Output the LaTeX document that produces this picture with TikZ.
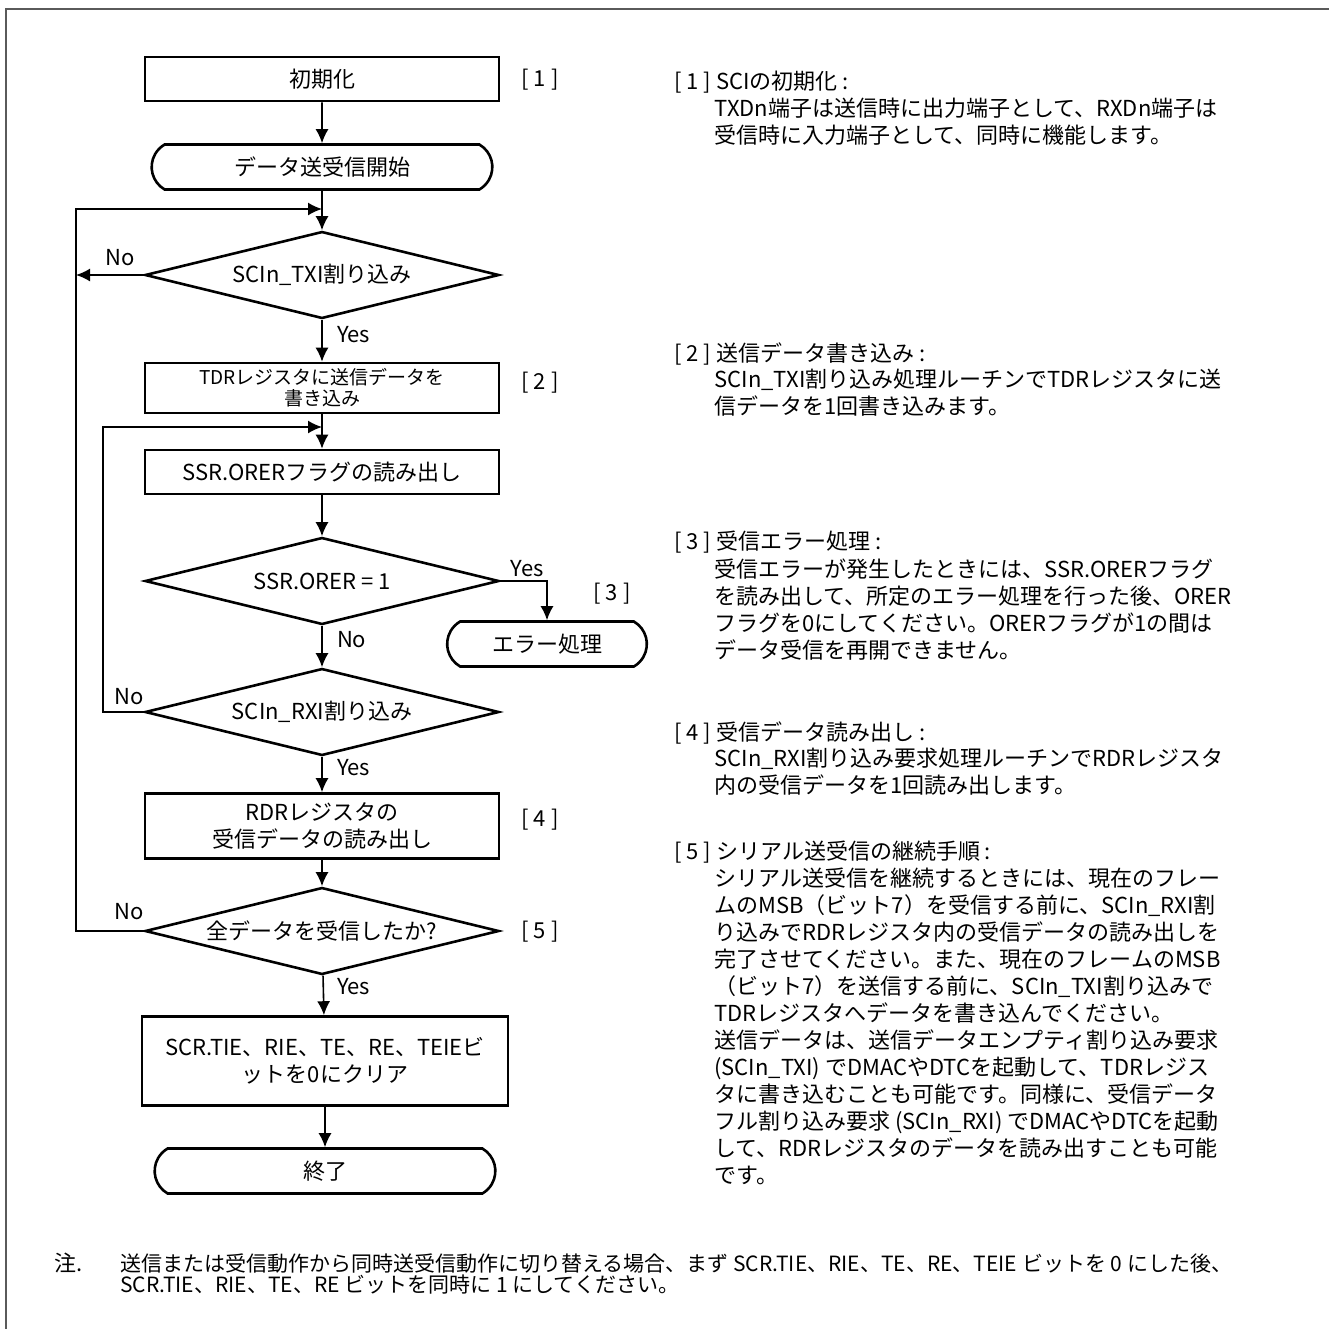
\documentclass[tikz,border=0pt]{standalone}
\usepackage{fontspec}
\setmainfont{Noto Sans CJK JP}
\usepackage{xcolor}
\usepackage{tikz}
\usetikzlibrary{shapes.geometric,shapes.misc,arrows.meta}
\definecolor{framegray}{RGB}{90,90,90}

\begin{document}
\begin{tikzpicture}[x=0.5pt,y=-0.5pt, every node/.style={font=\fontsize{11}{13.5}\selectfont}]
  \tikzstyle{procbox}=[rectangle, draw, line width=1.3pt, minimum width=177pt, minimum height=22pt, align=center, inner sep=2pt]
  \tikzstyle{termbox}=[rounded rectangle, rounded rectangle arc length=120, draw, line width=1.3pt, minimum width=177pt, minimum height=22.5pt]
  \tikzstyle{decbox}=[diamond, shape aspect=4.07, draw, line width=1.3pt, minimum width=177pt, minimum height=43.5pt, inner sep=0pt]
  \tikzstyle{flow}=[line width=0.8pt, -{Latex[length=7pt,width=6.5pt]}]
  \tikzstyle{tag}=[inner sep=0pt]
  \tikzstyle{desc}=[anchor=north west, align=left, inner sep=0pt]
  \useasboundingbox (0,0) rectangle (1329,1329);
  \draw[framegray, line width=1pt] (6,1329) -- (6,9) -- (1329,9);
  \node[procbox] (init) at (322,79) {初期化};
  \node[termbox] (start) at (322,167) {データ送受信開始};
  \node[decbox] (d1) at (322,275) {SCIn\_TXI割り込み};
  \node[procbox, font=\fontsize{9.5}{10.5}\selectfont, minimum height=25pt] (tdr) at (322,388) {TDRレジスタに送信データを\\書き込み};
  \node[procbox] (ssr) at (322,472) {SSR.ORERフラグの読み出し};
  \node[decbox] (d2) at (322,581) {SSR.ORER = 1};
  \node[termbox, minimum width=106.5pt] (err) at (547,644) {エラー処理};
  \node[decbox] (d3) at (322,712) {SCIn\_RXI割り込み};
  \node[procbox, minimum height=32.5pt] (rdr) at (322,826) {RDRレジスタの\\受信データの読み出し};
  \node[decbox] (d4) at (322,931) {全データを受信したか?};
  \node[procbox, minimum width=183pt, minimum height=44.5pt] (scr) at (325,1061) {SCR.TIE、RIE、TE、RE、TEIEビ\\ットを0にクリア};
  \node[termbox] (fin) at (325,1171) {終了};
  \coordinate (lx) at (76,209);
  \coordinate (m1) at (322,209);
  \coordinate (rx) at (103,427);
  \coordinate (m2) at (322,427);
  \draw[flow] (init) -- (start);
  \draw[flow] (start) -- (d1);
  \draw[flow] (d4.west) -| (lx) -- (m1);
  \draw[flow] (d1.west) -- (d1.west -| lx);
  \draw[flow] (d1) -- (tdr);
  \draw[flow] (tdr) -- (ssr);
  \draw[flow] (d3.west) -| (rx) -- (m2);
  \draw[flow] (ssr) -- (d2);
  \draw[flow] (d2.east) -| (err.north);
  \draw[flow] (d2) -- (d3);
  \draw[flow] (d3) -- (rdr);
  \draw[flow] (rdr) -- (d4);
  \draw[flow] (d4) -- (scr);
  \draw[flow] (scr) -- (fin);
  \node (no1) at (120,258) {No};
  \node[anchor=west] (yes1) at (330,335) {Yes};
  \node (yes2) at (527,569) {Yes};
  \node[anchor=west] (no2) at (330,640) {No};
  \node (no3) at (129,697) {No};
  \node[anchor=west] (yes3) at (330,768) {Yes};
  \node (no4) at (129,912) {No};
  \node[anchor=west] (yes4) at (330,987) {Yes};
  \node[tag] (t1) at (540,80) {[ 1 ]};
  \node[tag] (t2) at (540,383) {[ 2 ]};
  \node[tag] (t3) at (612,594) {[ 3 ]};
  \node[tag] (t4) at (540,820) {[ 4 ]};
  \node[tag] (t5) at (540,932) {[ 5 ]};
  \node[desc] (h1) at (674,71) {[ 1 ] SCIの初期化 :};
  \node[desc] (b1) at (714,98) {TXDn端子は送信時に出力端子として、RXDn端子は\\受信時に入力端子として、同時に機能します。};
  \node[desc] (h2) at (674,342) {[ 2 ] 送信データ書き込み :};
  \node[desc] (b2) at (714,369) {SCIn\_TXI割り込み処理ルーチンでTDRレジスタに送\\信データを1回書き込みます。};
  \node[desc] (h3) at (674,531) {[ 3 ] 受信エラー処理 :};
  \node[desc] (b3) at (714,558) {受信エラーが発生したときには、SSR.ORERフラグ\\を読み出して、所定のエラー処理を行った後、ORER\\フラグを0にしてください。ORERフラグが1の間は\\データ受信を再開できません。};
  \node[desc] (h4) at (674,721) {[ 4 ] 受信データ読み出し :};
  \node[desc] (b4) at (714,748) {SCIn\_RXI割り込み要求処理ルーチンでRDRレジスタ\\内の受信データを1回読み出します。};
  \node[desc] (h5) at (674,841) {[ 5 ] シリアル送受信の継続手順 :};
  \node[desc] (b5) at (714,868) {シリアル送受信を継続するときには、現在のフレー\\ムのMSB（ビット7）を受信する前に、SCIn\_RXI割\\り込みでRDRレジスタ内の受信データの読み出しを\\完了させてください。また、現在のフレームのMSB\\（ビット7）を送信する前に、SCIn\_TXI割り込みで\\TDRレジスタへデータを書き込んでください。\\送信データは、送信データエンプティ割り込み要求\\(SCIn\_TXI) でDMACやDTCを起動して、TDRレジス\\タに書き込むことも可能です。同様に、受信データ\\フル割り込み要求 (SCIn\_RXI) でDMACやDTCを起動\\して、RDRレジスタのデータを読み出すことも可能\\です。};
  \node[anchor=west] (nmark) at (47,1263) {注.};
  \node[desc, font=\fontsize{10.5}{10.5}\selectfont] (note) at (120,1253) {送信または受信動作から同時送受信動作に切り替える場合、まず SCR.TIE、RIE、TE、RE、TEIE ビットを 0 にした後、\\SCR.TIE、RIE、TE、RE ビットを同時に 1 にしてください。};
\end{tikzpicture}
\end{document}
